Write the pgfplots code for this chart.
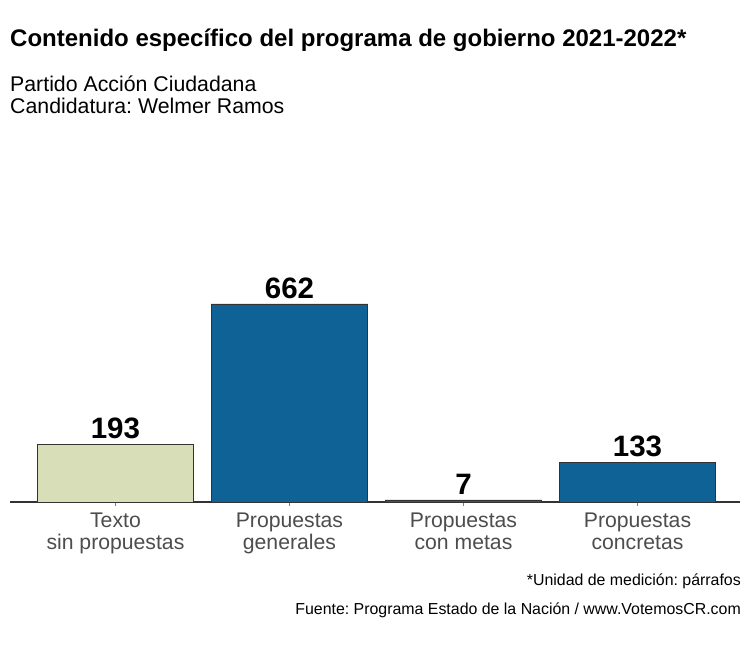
\documentclass[border=0pt]{standalone}
\usepackage{pgfplots}
\pgfplotsset{compat=1.18}
\usepackage{fontspec}
\setmainfont{Liberation Sans}
\frenchspacing
\definecolor{barblue}{RGB}{14,98,150}
\definecolor{bargreen}{RGB}{215,222,184}
\definecolor{axisgray}{RGB}{51,51,51}
\definecolor{ticktext}{RGB}{77,77,77}
\newcommand\fs[2]{\fontsize{#1}{#2}\selectfont}
\begin{document}
\frenchspacing
\begin{tikzpicture}[x=1pt,y=1pt]
\useasboundingbox (0,0) rectangle (750,651);
\fill[white] (0,0) rectangle (750,651);
\node[anchor=base west, inner sep=0pt, font=\bfseries\fs{24}{26}] at (10,604) {Contenido específico del programa de gobierno 2021-2022*};
\node[anchor=base west, inner sep=0pt, font=\fs{21.3}{24}] at (10,559.3) {Partido Acción Ciudadana};
\node[anchor=base west, inner sep=0pt, font=\fs{21.3}{24}] at (10,537.7) {Candidatura: Welmer Ramos};
\node[anchor=base east, inner sep=0pt, font=\fs{15.9}{18}] at (741,65.3) {*Unidad de medición: párrafos};
\node[anchor=base east, inner sep=0pt, font=\fs{15.9}{18}] at (741,36.7) {Fuente: Programa Estado de la Nación / www.VotemosCR.com};
\begin{axis}[
  at={(10pt,149pt)}, anchor=south west,
  scale only axis, width=730pt, height=209.4pt,
  xmin=-0.606, xmax=3.589, ymin=0, ymax=700,
  axis x line=bottom, axis y line=none,
  axis line style={-, axisgray, line width=1.1pt},
  ytick=\empty,
  xtick={0,1,2,3},
  xticklabels={{Texto\\sin propuestas},{Propuestas\\generales},{Propuestas\\con metas},{Propuestas\\concretas}},
  tick align=outside, major tick length=4pt,
  xtick style={draw=gray, line width=0.8pt},
  xticklabel style={align=center, font=\fs{21.2}{22}, text=ticktext, inner sep=0pt, anchor=north, yshift=-7pt},
  point meta=explicit symbolic,
  nodes near coords={\pgfplotspointmeta},
  nodes near coords style={anchor=base, yshift=5.5pt, text=black, inner sep=0pt, font=\bfseries\fs{29.5}{30}},
  clip=false,
]
\addplot[ybar, bar width=0.9, bar shift=0pt, fill=bargreen, draw=axisgray, line width=0.8pt] coordinates {(0,193) [193]};
\addplot[ybar, bar width=0.9, bar shift=0pt, fill=barblue, draw=axisgray, line width=0.8pt] coordinates {(1,662) [662] (2,7) [7] (3,133) [133]};
\end{axis}
\end{tikzpicture}
\end{document}
